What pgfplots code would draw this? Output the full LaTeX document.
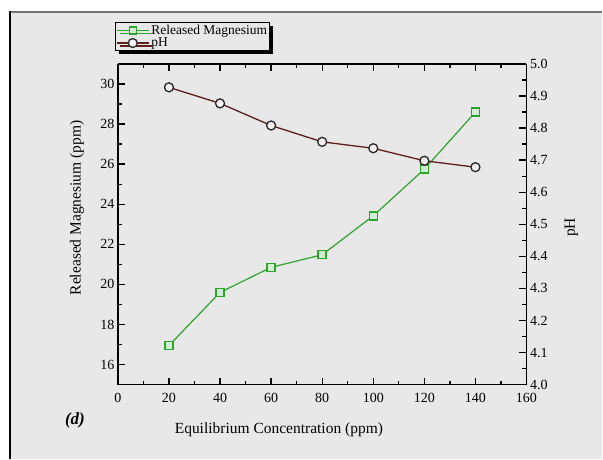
\documentclass[border=0pt]{standalone}
\usepackage{fontspec}
\setmainfont{Liberation Serif}
\usepackage{pgfplots}
\pgfplotsset{compat=1.18}
\usetikzlibrary{shadows}

\definecolor{panel}{RGB}{232,232,232}
\definecolor{mgline}{RGB}{45,165,45}
\definecolor{mgfill}{RGB}{210,238,210}
\definecolor{phline}{RGB}{95,30,30}
\definecolor{phfill}{RGB}{246,240,240}

\pgfplotsset{
  common/.style={
    scale only axis, width=409pt, height=321pt,
    at={(118pt,74pt)}, anchor=south west,
    xmin=0, xmax=160,
    axis line style={line width=1.4pt},
    tick label style={font=\fontsize{14}{16}\selectfont},
    label style={font=\fontsize{15.5}{17}\selectfont},
    /pgf/number format/assume math mode=true,
  },
  tickset/.style={
    tick align=inside,
    tick style={draw=black, line width=1.3pt},
    major tick length=7pt, minor tick length=4pt,
  },
  mgstyle/.style={mgline, line width=1.2pt, mark=square*, mark size=4pt,
    mark options={draw=mgline, fill=mgfill, line width=1.5pt}},
  phstyle/.style={phline, line width=1.3pt, mark=*, mark size=4.5pt,
    mark options={draw=black!85, fill=phfill, line width=1.3pt}},
}

\begin{document}
\begin{tikzpicture}[x=1pt,y=1pt]
  % page and panel frame
  \fill[white] (0,0) rectangle (603,459);
  \fill[panel] (10,0) rectangle (603,447);
  \draw[black!55, line width=1.2pt] (10,447) -- (603,447);
  \draw[black, line width=1.2pt] (10,0) -- (10,447.6);

  % released magnesium on the left axis
  \begin{axis}[common,
    axis y line*=left,
    tickset,
    ymin=15, ymax=31,
    ytick={16,18,...,30}, minor ytick={15,17,...,31},
    xtick={0,20,...,160}, minor xtick={10,30,...,150},
    xticklabel style={yshift=-5pt},
    xlabel={Equilibrium Concentration (ppm)},
    xlabel style={at={(axis description cs:0.394,-0.140)}, anchor=center},
    ylabel={Released Magnesium (ppm)},
    ylabel style={at={(axis description cs:-0.100,0.551)}, anchor=center},
  ]
    \addplot[mgstyle] coordinates {
      (20,16.95) (40,19.60) (60,20.85) (80,21.48) (100,23.42) (120,25.75) (140,28.60)
    };
  \end{axis}

  % pH on the right axis
  \begin{axis}[common,
    axis y line*=right, axis x line=none,
    tickset,
    ymin=4, ymax=5,
    ytick={4.0,4.1,4.2,4.3,4.4,4.5,4.6,4.7,4.8,4.9,5.0},
    minor ytick={4.05,4.15,4.25,4.35,4.45,4.55,4.65,4.75,4.85,4.95},
    yticklabel style={/pgf/number format/.cd, fixed, fixed zerofill, precision=1},
    ylabel={pH},
    ylabel style={at={(axis description cs:1.110,0.49)}, anchor=center},
    legend style={at={(axis description cs:-0.007,1.131)}, anchor=north west,
      draw=black, line width=1.2pt, fill=panel,
      font=\fontsize{13.5}{14}\selectfont,
      inner sep=0.5pt, row sep=-2pt,
      drop shadow={shadow xshift=3pt, shadow yshift=-3pt, fill=black, opacity=1},
      legend cell align=left},
    legend image code/.code={\draw[mark repeat=2, mark phase=2, #1]
      plot coordinates {(0pt,0pt) (16pt,0pt) (32pt,0pt)};},
  ]
    \addlegendimage{mgstyle, mark size=3.5pt, line width=1pt, mark options={line width=1.2pt, draw=mgline, fill=mgfill}}
    \addlegendentry{Released Magnesium}
    \addplot[phstyle] coordinates {
      (20,4.927) (40,4.877) (60,4.808) (80,4.757) (100,4.737) (120,4.698) (140,4.678)
    };
    \addlegendentry{pH}
  \end{axis}

  \node[font=\bfseries\itshape\fontsize{17}{19}\selectfont] at (75,38) {(d)};
\end{tikzpicture}
\end{document}
